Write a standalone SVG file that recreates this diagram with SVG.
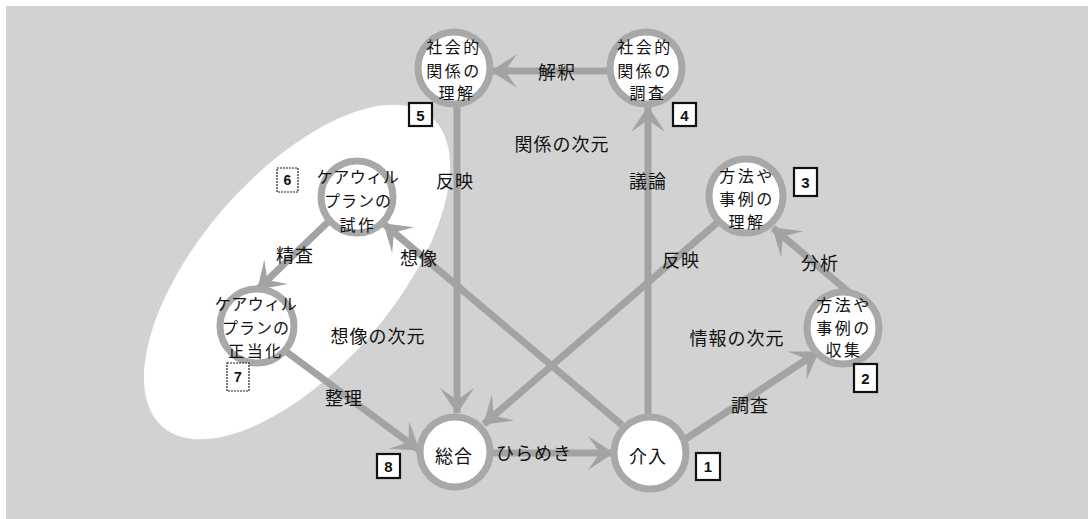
<svg xmlns="http://www.w3.org/2000/svg" width="1088" height="519" viewBox="0 0 1088 519">
  <defs>
    <style>
      .bg { fill: #d2d2d2; }
      .conn { stroke: #a3a3a3; stroke-width: 7; fill: none; marker-end: url(#arr); }
      .node { fill: #ffffff; stroke: #a8a8a8; stroke-width: 7; }
      .t { font-family: "Noto Sans CJK JP", "Noto Sans CJK SC", sans-serif; font-size: 18px; fill: #111; text-anchor: middle; dominant-baseline: central; letter-spacing: 1px; }
      .nt { font-family: "Noto Sans CJK JP", "Noto Sans CJK SC", sans-serif; font-size: 16px; fill: #111; text-anchor: middle; dominant-baseline: central; letter-spacing: 2.5px; }
      .box { fill: #ffffff; stroke: #111; stroke-width: 2.2; }
      .boxthin { fill: #ffffff; stroke: #222; stroke-width: 1.2; stroke-dasharray: 2 1; }
      .num { font-family: "Liberation Sans", Arial, sans-serif; font-size: 15px; font-weight: bold; fill: #111; text-anchor: middle; dominant-baseline: central; }
    </style>
    <marker id="arr" markerUnits="userSpaceOnUse" viewBox="-27 -19 30 38" refX="0" refY="0" markerWidth="30" markerHeight="38" orient="auto">
      <path d="M1,0 L-25,-17 L-13,0 L-25,17 Z" fill="#a3a3a3"/>
    </marker>
  </defs>

  <rect x="0" y="0" width="1088" height="519" fill="#ffffff"/>
  <rect class="bg" x="6" y="6" width="1082" height="513"/>
  <ellipse cx="297" cy="272" rx="205" ry="97" transform="rotate(-49 297 272)" fill="#ffffff"/>

  <g id="connectors">
    <line class="conn" x1="684" y1="440" x2="818" y2="352"/>
    <line class="conn" x1="851" y1="294" x2="773" y2="228"/>
    <line class="conn" x1="718" y1="222" x2="484" y2="424"/>
    <line class="conn" x1="648" y1="417" x2="648" y2="107"/>
    <line class="conn" x1="610" y1="71" x2="492" y2="71"/>
    <line class="conn" x1="457" y1="104" x2="457" y2="413"/>
    <line class="conn" x1="622" y1="425" x2="384" y2="224"/>
    <line class="conn" x1="328" y1="222" x2="258" y2="289"/>
    <line class="conn" x1="284" y1="350" x2="419" y2="450"/>
    <line class="conn" x1="490" y1="453" x2="613" y2="453"/>
  </g>

  <g id="n5">
    <circle class="node" cx="454" cy="68" r="36"/>
    <text class="nt" x="454" y="46">社会的</text>
    <text class="nt" x="454" y="70">関係の</text>
    <text class="nt" x="457" y="92">理解</text>
    <rect class="box" x="409" y="103" width="23" height="23"/>
    <text class="num" x="420.5" y="115">5</text>
  </g>
  <g id="n4">
    <circle class="node" cx="646" cy="68" r="36"/>
    <text class="nt" x="645" y="46">社会的</text>
    <text class="nt" x="645" y="70">関係の</text>
    <text class="nt" x="648" y="92">調査</text>
    <rect class="box" x="673" y="103" width="23" height="23"/>
    <text class="num" x="684.5" y="115">4</text>
  </g>
  <g id="n6">
    <circle class="node" cx="357" cy="197" r="36"/>
    <text class="nt" x="358" y="176" style="letter-spacing:0.5px">ケアウィル</text>
    <text class="nt" x="358" y="200" style="letter-spacing:1px">プランの</text>
    <text class="nt" x="358" y="224">試作</text>
    <rect class="boxthin" x="277" y="168" width="21" height="24"/>
    <text class="num" x="287.5" y="180" style="font-size:14px">6</text>
  </g>
  <g id="n7">
    <circle class="node" cx="257" cy="326" r="37"/>
    <text class="nt" x="256" y="303" style="letter-spacing:0.5px">ケアウィル</text>
    <text class="nt" x="256" y="327" style="letter-spacing:1px">プランの</text>
    <text class="nt" x="256" y="350">正当化</text>
    <rect class="boxthin" x="227" y="363" width="22" height="28"/>
    <text class="num" x="238" y="377" style="font-size:14px">7</text>
  </g>
  <g id="n3">
    <circle class="node" cx="746" cy="196" r="37"/>
    <text class="nt" x="747" y="175">方法や</text>
    <text class="nt" x="747" y="198">事例の</text>
    <text class="nt" x="747" y="221">理解</text>
    <rect class="box" x="794" y="168" width="23" height="28"/>
    <text class="num" x="805.5" y="182">3</text>
  </g>
  <g id="n2">
    <circle class="node" cx="843" cy="328" r="36"/>
    <text class="nt" x="844" y="304">方法や</text>
    <text class="nt" x="844" y="327">事例の</text>
    <text class="nt" x="844" y="349">収集</text>
    <rect class="box" x="854" y="364" width="23" height="28"/>
    <text class="num" x="865.5" y="378">2</text>
  </g>
  <g id="n1">
    <circle class="node" cx="650" cy="453" r="36"/>
    <text class="t" x="648" y="455">介入</text>
    <rect class="box" x="696" y="453" width="24" height="27"/>
    <text class="num" x="708" y="466.5">1</text>
  </g>
  <g id="n8">
    <circle class="node" cx="455" cy="452" r="35"/>
    <text class="t" x="454" y="455">総合</text>
    <rect class="box" x="377" y="454" width="23" height="24"/>
    <text class="num" x="388.5" y="466">8</text>
  </g>

  <g id="labels">
    <text class="t" x="557" y="71">解釈</text>
    <text class="t" x="562" y="143">関係の次元</text>
    <text class="t" x="455" y="180">反映</text>
    <text class="t" x="648" y="180">議論</text>
    <text class="t" x="295" y="254">精査</text>
    <text class="t" x="419" y="257">想像</text>
    <text class="t" x="681" y="259">反映</text>
    <text class="t" x="820" y="262">分析</text>
    <text class="t" x="378" y="335">想像の次元</text>
    <text class="t" x="737" y="337">情報の次元</text>
    <text class="t" x="344" y="397">整理</text>
    <text class="t" x="750" y="404">調査</text>
    <text class="t" x="534" y="452">ひらめき</text>
  </g>
</svg>
